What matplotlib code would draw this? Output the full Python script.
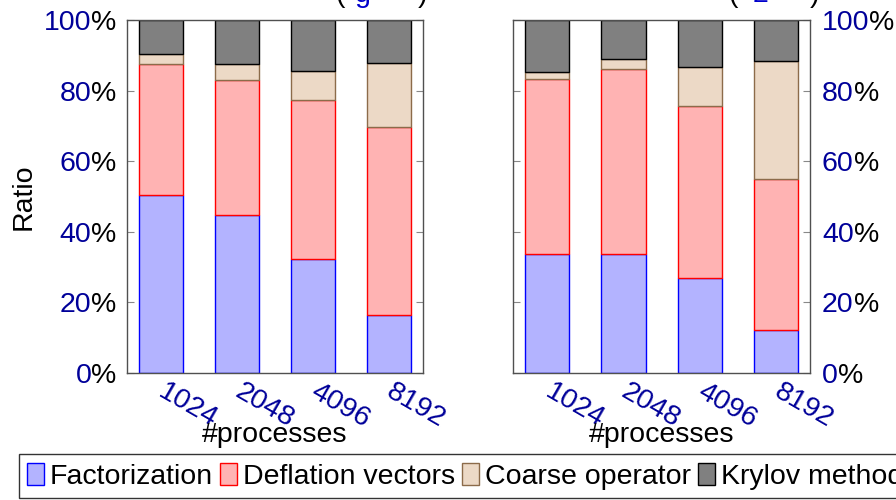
import matplotlib.pyplot as plt
import numpy as np

plt.rcParams['font.family'] = ['Liberation Sans', 'DejaVu Sans']
plt.rcParams['font.size'] = 20.5

procs = ['1024', '2048', '4096', '8192']
phases = ['Factorization', 'Deflation vectors', 'Coarse operator', 'Krylov method']

# share of total time per phase (%), one list per phase
fact_left = [50.3, 44.7, 32.4, 16.3]
defl_left = [37.2, 38.4, 44.9, 53.5]
coarse_left = [3.0, 4.4, 8.3, 17.9]
krylov_left = [9.5, 12.5, 14.4, 12.3]

fact_right = [33.6, 33.7, 26.9, 12.3]
defl_right = [49.7, 52.3, 48.8, 42.6]
coarse_right = [2.0, 3.0, 11.0, 33.5]
krylov_right = [14.7, 11.0, 13.3, 11.6]

fills = ['#b3b3ff', '#ffb3b3', '#ecd9c6', '#808080']
edges = ['#0000ff', '#ff0000', '#8c6b4a', '#000000']
navy = '#000099'

fig = plt.figure(figsize=(8.96, 5.0), dpi=100)
ax1 = fig.add_axes([0.1414, 0.254, 0.3304, 0.706])
ax2 = fig.add_axes([0.5729, 0.254, 0.3311, 0.706])

x = np.arange(len(procs))
yticks = [0, 20, 40, 60, 80, 100]


def draw(ax, series, side):
    bottom = np.zeros(len(procs))
    for vals, name, fc, ec in zip(series, phases, fills, edges):
        ax.bar(x, vals, 0.58, bottom=bottom, color=fc, edgecolor=ec,
               linewidth=1.0, label=name)
        bottom += np.array(vals)
    ax.set_xlim(-0.447, 3.447)
    ax.set_ylim(0, 100)
    ax.set_xticks(x)
    ax.set_xticklabels(procs, rotation=-30, ha='left', va='center',
                       rotation_mode='anchor', color=navy)
    ax.tick_params(axis='x', length=0, pad=12)
    ax.set_yticks(yticks)
    ax.set_yticklabels([])
    ax.tick_params(axis='y', direction='in', length=5, width=0.8,
                   color='#888888', left=True, right=True)
    for s in ax.spines.values():
        s.set_color('#505050')
        s.set_linewidth(1.0)
    ax.set_xlabel('#processes', color='black')
    ax.xaxis.set_label_coords(0.5, -0.139)
    # percent labels: blue number, black percent sign
    for v in yticks:
        if side == 'left':
            pct = ax.annotate('%', xy=(0, v), xycoords=('axes fraction', 'data'),
                              xytext=(-10, 0), textcoords='offset pixels',
                              ha='right', va='center_baseline', color='black')
            ax.annotate(str(v), xy=(0, 0), xycoords=pct, ha='right',
                        va='bottom', color=navy)
        else:
            num = ax.annotate(str(v), xy=(1, v), xycoords=('axes fraction', 'data'),
                              xytext=(12, 0), textcoords='offset pixels',
                              ha='left', va='center_baseline', color=navy)
            ax.annotate('%', xy=(1, 0), xycoords=num, ha='left',
                        va='bottom', color='black')


draw(ax1, [fact_left, defl_left, coarse_left, krylov_left], 'left')
draw(ax2, [fact_right, defl_right, coarse_right, krylov_right], 'right')
ax1.set_ylabel('Ratio')
ax1.yaxis.set_label_coords(-0.303, 0.5)

# titles, mostly above the top edge
for xs, mid in [((340, 363, 423), 'g'), ((733, 760, 815), '2')]:
    fig.text(xs[0] / 896, 0.996, '(', ha='center', va='baseline')
    fig.text(xs[1] / 896, 0.996, mid, ha='center', va='baseline', color='#0000cc')
    fig.text(xs[2] / 896, 0.996, ')', ha='center', va='baseline')

handles, labels = ax1.get_legend_handles_labels()
leg = fig.legend(handles, labels, loc='upper left', bbox_to_anchor=(0.0209, 0.0914),
                 ncol=4, frameon=True, fancybox=False, edgecolor='black',
                 handlelength=0.6, handleheight=0.82, handletextpad=0.2,
                 columnspacing=0.25, borderpad=0.3, borderaxespad=0)
leg.get_frame().set_linewidth(1.0)

fig.savefig('out.png', dpi=100)
